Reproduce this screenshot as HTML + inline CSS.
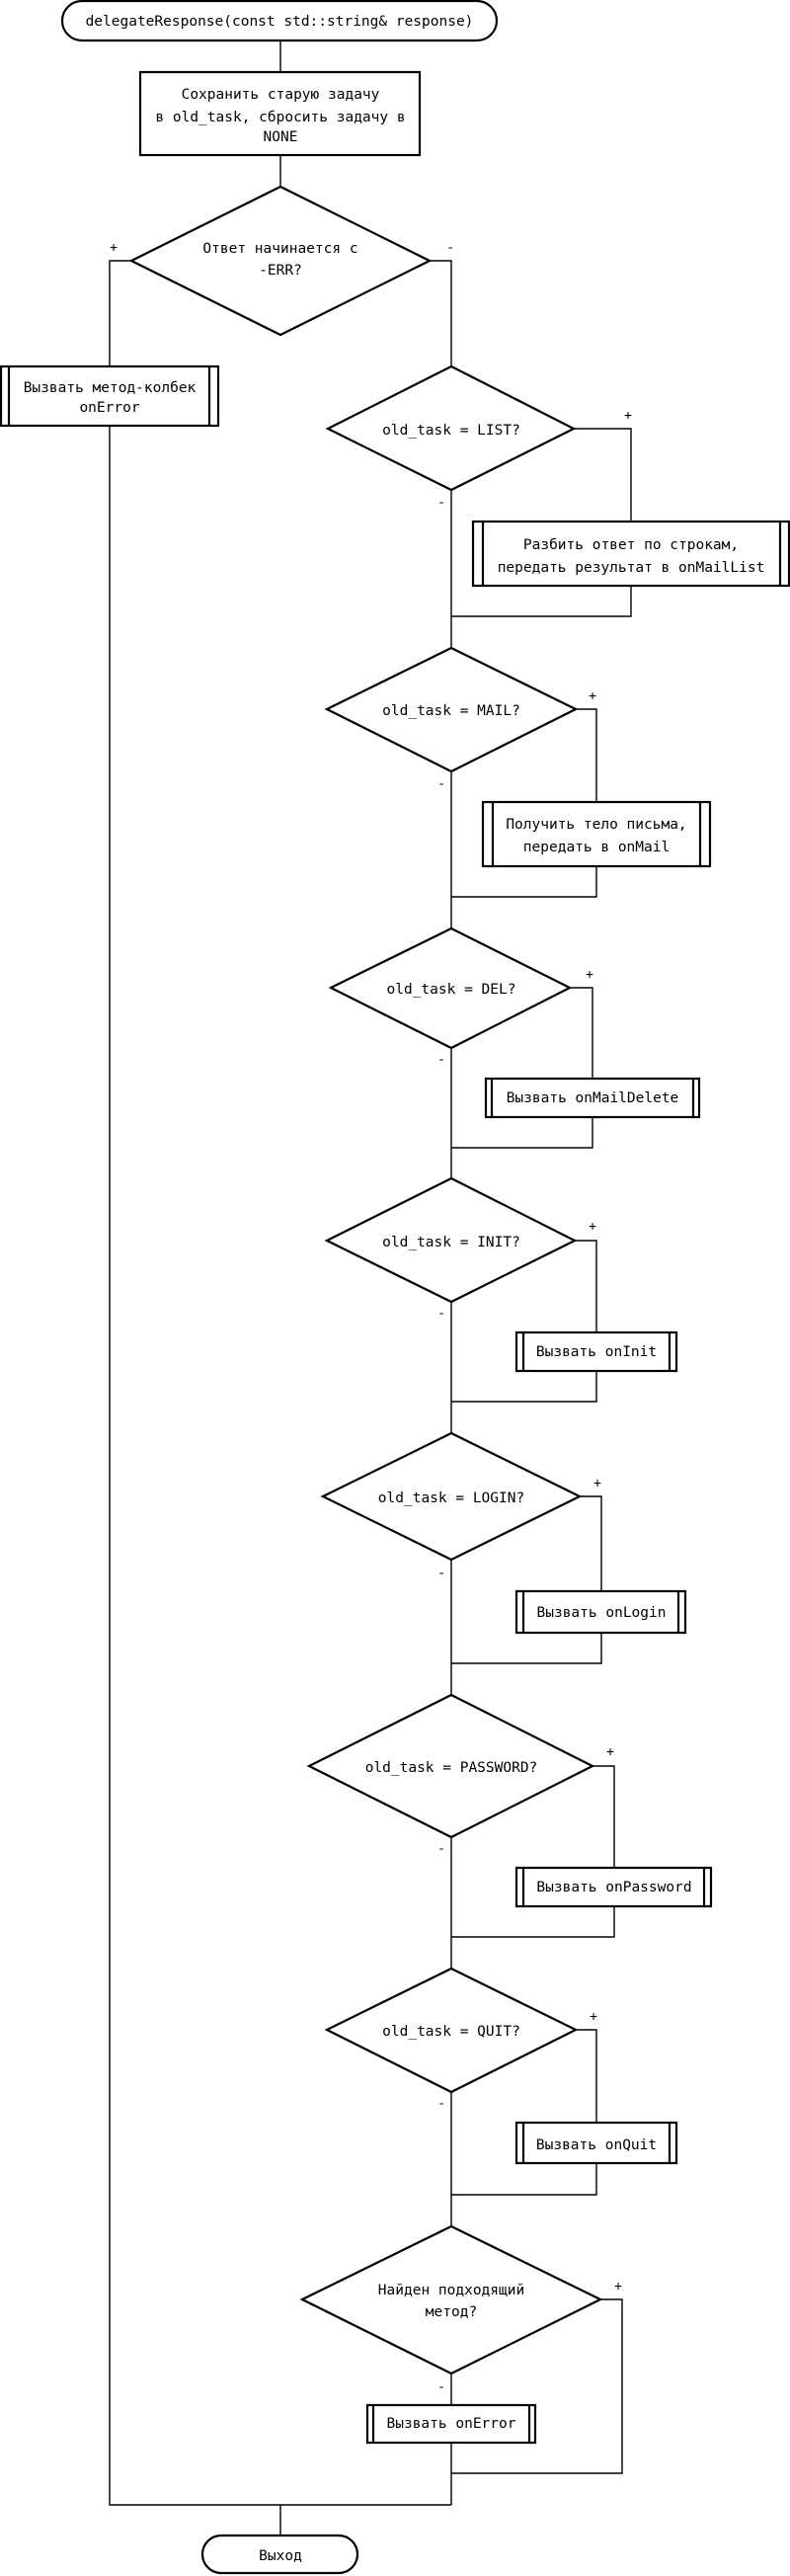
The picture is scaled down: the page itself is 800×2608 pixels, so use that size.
<!DOCTYPE html>
<html><head><meta charset="utf-8"><style>
html,body{margin:0;padding:0;background:#fff;}
svg{display:block;}
text{font-family:"DejaVu Sans Mono","Liberation Mono",monospace;font-size:14.5px;fill:#000;text-anchor:middle;dominant-baseline:middle;}
.s{fill:#fff;stroke:#000;stroke-width:2.2;}
.l{fill:none;stroke:#000;stroke-width:1.4;}
.lab{font-size:13px;}
</style></head><body>
<svg width="800" height="2608" viewBox="0 0 800 2608" xmlns="http://www.w3.org/2000/svg">
<!-- connectors -->
<path class="l" d="M284 42V73 M284 157V189"/>
<path class="l" d="M133 264H111V371 M111 431V2536H457 M284 2536V2567"/>
<path class="l" d="M435 264H457V2536"/>
<!-- LIST -->
<path class="l" d="M581 434H639V528 M639 593V624H457"/>
<path class="l" d="M583 718H604V812 M604 877V908H457"/>
<path class="l" d="M577 1000H600V1092 M600 1131V1162H457"/>
<path class="l" d="M582 1256H604V1349 M604 1388V1419H457"/>
<path class="l" d="M587 1515H609V1611 M609 1653V1684H457"/>
<path class="l" d="M600 1788H622V1891 M622 1930V1961H457"/>
<path class="l" d="M583 2055H604V2149 M604 2190V2222H457"/>
<path class="l" d="M608 2328H630V2504H457"/>

<!-- start -->
<rect class="s" x="63" y="1" width="440" height="40" rx="20"/>
<text x="283" y="22">delegateResponse(const std::string&amp; response)</text>
<!-- process -->
<rect class="s" x="142" y="73" width="283" height="84"/>
<text x="284" y="96">Сохранить старую задачу</text>
<text x="284" y="119">в old_task, сбросить задачу в</text>
<text x="284" y="139">NONE</text>
<!-- diamond 1 -->
<polygon class="s" points="284,189 435,264 284,339 133,264"/>
<text x="284" y="252">Ответ начинается с</text>
<text x="284" y="274">-ERR?</text>
<text class="lab" x="115" y="251">+</text>
<text class="lab" x="456" y="251">-</text>
<!-- onError box -->
<rect class="s" x="1" y="371" width="220" height="60"/>
<path class="s" d="M9 371V431 M212 371V431"/>
<text x="111" y="393">Вызвать метод-колбек</text>
<text x="111" y="413">onError</text>

<!-- LIST -->
<polygon class="s" points="457,371 581,434 457,496 332,434"/>
<text x="457" y="436">old_task = LIST?</text>
<text class="lab" x="636" y="421">+</text>
<text class="lab" x="447" y="509">-</text>
<rect class="s" x="479" y="528" width="320" height="65"/>
<path class="s" d="M489 528V593 M790 528V593"/>
<text x="639" y="552">Разбить ответ по строкам,</text>
<text x="639" y="575">передать результат в onMailList</text>

<!-- MAIL -->
<polygon class="s" points="457,656 583,718 457,781 331,718"/>
<text x="457" y="720">old_task = MAIL?</text>
<text class="lab" x="600" y="705">+</text>
<text class="lab" x="447" y="794">-</text>
<rect class="s" x="489" y="812" width="230" height="65"/>
<path class="s" d="M499 812V877 M709 812V877"/>
<text x="604" y="835">Получить тело письма,</text>
<text x="604" y="858">передать в onMail</text>

<!-- DEL -->
<polygon class="s" points="457,940 577,1000 457,1061 335,1000"/>
<text x="457" y="1002">old_task = DEL?</text>
<text class="lab" x="597" y="987">+</text>
<text class="lab" x="447" y="1073">-</text>
<rect class="s" x="492" y="1092" width="216" height="39"/>
<path class="s" d="M498 1092V1131 M702 1092V1131"/>
<text x="600" y="1112">Вызвать onMailDelete</text>

<!-- INIT -->
<polygon class="s" points="457,1193 582,1256 457,1318 331,1256"/>
<text x="457" y="1258">old_task = INIT?</text>
<text class="lab" x="600" y="1242">+</text>
<text class="lab" x="447" y="1330">-</text>
<rect class="s" x="523" y="1349" width="162" height="39"/>
<path class="s" d="M530 1349V1388 M678 1349V1388"/>
<text x="604" y="1369">Вызвать onInit</text>

<!-- LOGIN -->
<polygon class="s" points="457,1451 587,1515 457,1579 327,1515"/>
<text x="457" y="1517">old_task = LOGIN?</text>
<text class="lab" x="605" y="1502">+</text>
<text class="lab" x="447" y="1593">-</text>
<rect class="s" x="523" y="1611" width="171" height="42"/>
<path class="s" d="M530 1611V1653 M687 1611V1653"/>
<text x="609" y="1633">Вызвать onLogin</text>

<!-- PASSWORD -->
<polygon class="s" points="457,1716 600,1788 457,1860 313,1788"/>
<text x="457" y="1790">old_task = PASSWORD?</text>
<text class="lab" x="618" y="1774">+</text>
<text class="lab" x="447" y="1872">-</text>
<rect class="s" x="523" y="1891" width="197" height="39"/>
<path class="s" d="M530 1891V1930 M713 1891V1930"/>
<text x="622" y="1911">Вызвать onPassword</text>

<!-- QUIT -->
<polygon class="s" points="457,1993 583,2055 457,2118 331,2055"/>
<text x="457" y="2057">old_task = QUIT?</text>
<text class="lab" x="601" y="2042">+</text>
<text class="lab" x="447" y="2130">-</text>
<rect class="s" x="523" y="2149" width="162" height="41"/>
<path class="s" d="M530 2149V2190 M678 2149V2190"/>
<text x="604" y="2172">Вызвать onQuit</text>

<!-- FOUND -->
<polygon class="s" points="457,2254 608,2328 457,2403 306,2328"/>
<text x="457" y="2319">Найден подходящий</text>
<text x="457" y="2341">метод?</text>
<text class="lab" x="626" y="2315">+</text>
<text class="lab" x="447" y="2417">-</text>
<rect class="s" x="372" y="2435" width="170" height="38"/>
<path class="s" d="M378 2435V2473 M536 2435V2473"/>
<text x="457" y="2454">Вызвать onError</text>

<!-- exit -->
<rect class="s" x="205" y="2567" width="157" height="38" rx="19"/>
<text x="284" y="2588">Выход</text>
</svg>
</body></html>
